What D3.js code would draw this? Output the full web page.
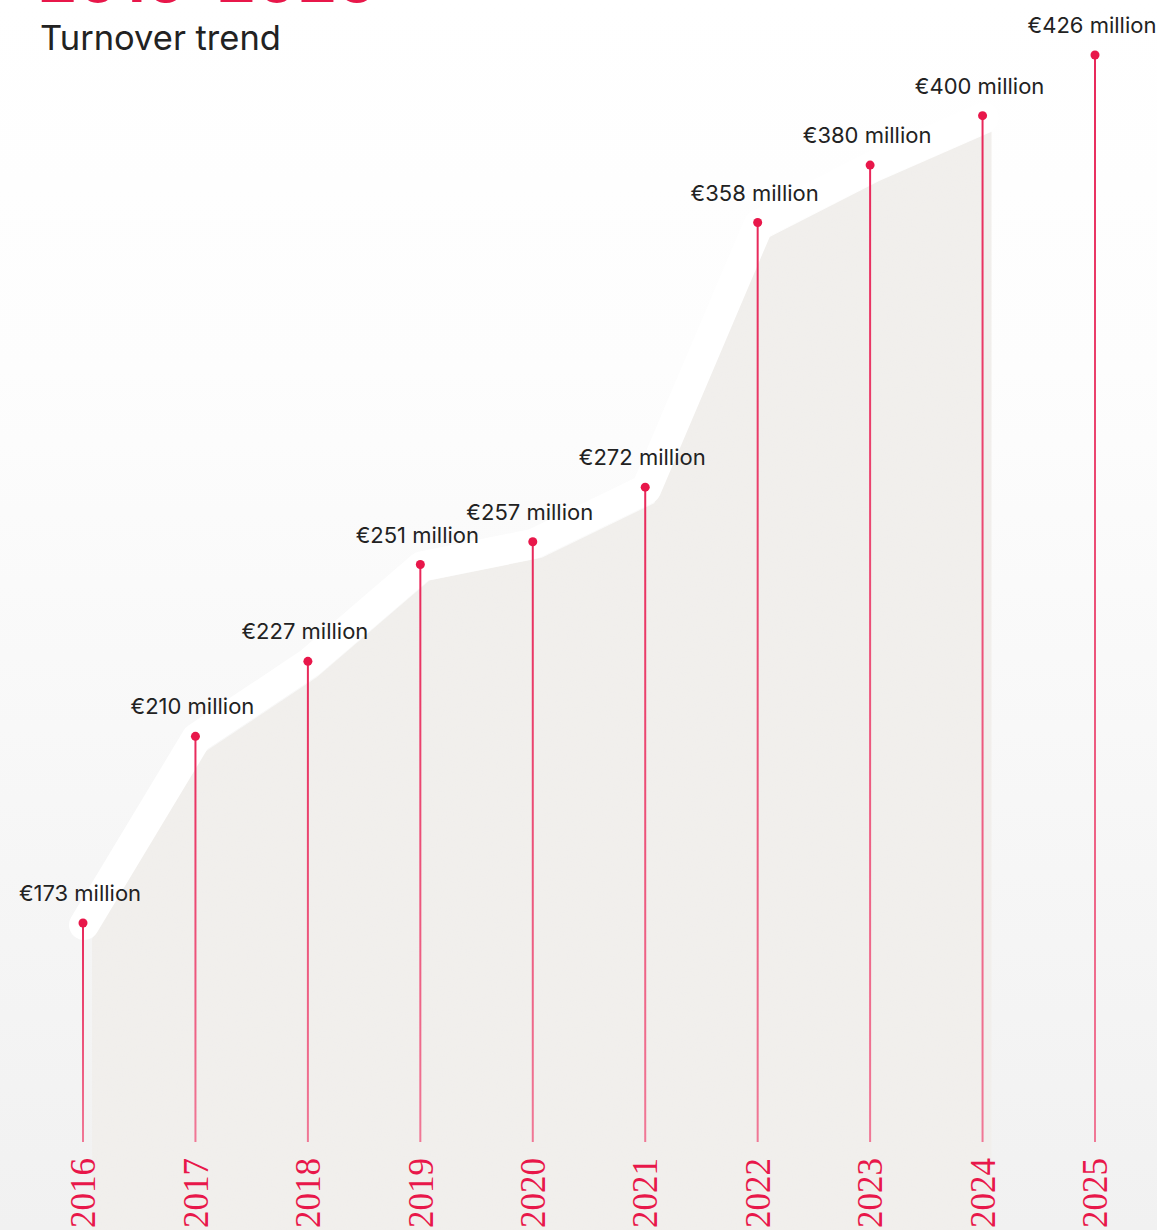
<!DOCTYPE html>
<html>
<head>
<meta charset="utf-8">
<script src="https://cdn.jsdelivr.net/npm/d3@7"></script>
<style>
  html, body { margin: 0; padding: 0; overflow: hidden; }
  body { width: 1157px; height: 1230px; }
</style>
</head>
<body>
<div id="chart"></div>
<script>
// turnover per year, in million euro
var years = ['2016', '2017', '2018', '2019', '2020', '2021', '2022', '2023', '2024', '2025'];
var turnover = [173, 210, 227, 251, 257, 272, 358, 380, 400, 426];
var title = 'Turnover trend';
var period = '2016\u20132025';

var width = 1157;
var height = 1230;
var baseY = 1142; // where the stems end
var pink = '#e8174a';

var svg = d3.select('#chart').append('svg').attr('width', width).attr('height', height);
var defs = svg.append('defs');

var bg = defs.append('linearGradient').attr('id', 'bg').attr('x1', 0).attr('y1', 0).attr('x2', 0).attr('y2', 1);
bg.append('stop').attr('offset', '0').attr('stop-color', '#ffffff');
bg.append('stop').attr('offset', '0.3').attr('stop-color', '#fdfdfd');
bg.append('stop').attr('offset', '1').attr('stop-color', '#f1f1f1');

var stemGrad = defs.append('linearGradient').attr('id', 'stem').attr('x1', 0).attr('y1', 0).attr('x2', 0).attr('y2', 1);
stemGrad.append('stop').attr('offset', '0').attr('stop-color', '#e8285a');
stemGrad.append('stop').attr('offset', '1').attr('stop-color', '#f07896');

// paper like grain for the area
var grain = defs.append('filter').attr('id', 'grain').attr('x', 0).attr('y', 0).attr('width', 1).attr('height', 1);
grain.append('feTurbulence').attr('type', 'fractalNoise').attr('baseFrequency', 0.8).attr('numOctaves', 2).attr('seed', 3).attr('result', 'noise');
grain.append('feColorMatrix').attr('in', 'noise').attr('type', 'matrix')
  .attr('values', '0 0 0 0 0.6  0 0 0 0 0.58  0 0 0 0 0.55  0 0 0 0.035 0').attr('result', 'tint');
grain.append('feComposite').attr('in', 'tint').attr('in2', 'SourceGraphic').attr('operator', 'in').attr('result', 'dots');
grain.append('feMerge').call(function(m) {
  m.append('feMergeNode').attr('in', 'SourceGraphic');
  m.append('feMergeNode').attr('in', 'dots');
});

svg.append('rect').attr('width', width).attr('height', height).attr('fill', 'url(#bg)');

var x = d3.scalePoint().domain(years).range([83, 1095]);
var y = d3.scaleLog().domain([173, 426]).range([923, 55]);

var data = years.map(function(d, i) {
  return { year: d, value: turnover[i] };
});
var trend = data.slice(0, 9); // band and area stop at 2024

// area under the trend
var area = d3.area()
  .x(function(d) { return x(d.year) + 9; })
  .y0(height)
  .y1(function(d) { return y(d.value) + 16; });

svg.append('path')
  .datum(trend)
  .attr('d', area)
  .attr('fill', '#f2f0ed')
  .attr('filter', 'url(#grain)');

// white band along the trend
var band = d3.line()
  .x(function(d) { return x(d.year) + 1; })
  .y(function(d) { return y(d.value) + 2; });

svg.append('path')
  .datum(trend)
  .attr('d', band)
  .attr('fill', 'none')
  .attr('stroke', '#ffffff')
  .attr('stroke-width', 30)
  .attr('stroke-linecap', 'round')
  .attr('stroke-linejoin', 'round');

// stems
svg.selectAll('rect.stem')
  .data(data)
  .enter()
  .append('rect')
  .attr('class', 'stem')
  .attr('x', function(d) { return x(d.year) - 1; })
  .attr('y', function(d) { return y(d.value); })
  .attr('width', 2)
  .attr('height', function(d) { return baseY - y(d.value); })
  .attr('fill', 'url(#stem)');

svg.selectAll('circle.dot')
  .data(data)
  .enter()
  .append('circle')
  .attr('class', 'dot')
  .attr('cx', function(d) { return x(d.year); })
  .attr('cy', function(d) { return y(d.value); })
  .attr('r', 4.5)
  .attr('fill', pink);

svg.selectAll('text.value')
  .data(data)
  .enter()
  .append('text')
  .attr('class', 'value')
  .attr('x', function(d) { return x(d.year) - 3; })
  .attr('y', function(d) { return y(d.value) - 22; })
  .attr('text-anchor', 'middle')
  .attr('font-family', 'Inter, sans-serif')
  .attr('font-size', 22)
  .attr('fill', '#222222')
  .text(function(d) { return '\u20ac' + d.value + ' million'; });

// year labels, rotated
svg.selectAll('text.year')
  .data(years)
  .enter()
  .append('text')
  .attr('class', 'year')
  .attr('transform', function(d) { return 'translate(' + x(d) + ',1158) rotate(-90)'; })
  .attr('dy', '0.35em')
  .attr('text-anchor', 'end')
  .attr('font-family', '"Liberation Serif", serif')
  .attr('font-size', 35)
  .attr('fill', pink)
  .text(function(d) { return d; });

// titles (the period line is cut by the top edge, as in the source)
svg.append('text')
  .attr('x', 38)
  .attr('y', 2)
  .attr('font-family', 'Inter, sans-serif')
  .attr('font-weight', 700)
  .attr('font-size', 62)
  .attr('fill', pink)
  .text(period);

svg.append('text')
  .attr('x', 40)
  .attr('y', 50)
  .attr('font-family', 'Inter, sans-serif')
  .attr('font-size', 34.5)
  .attr('fill', '#222222')
  .text(title);
</script>
</body>
</html>
